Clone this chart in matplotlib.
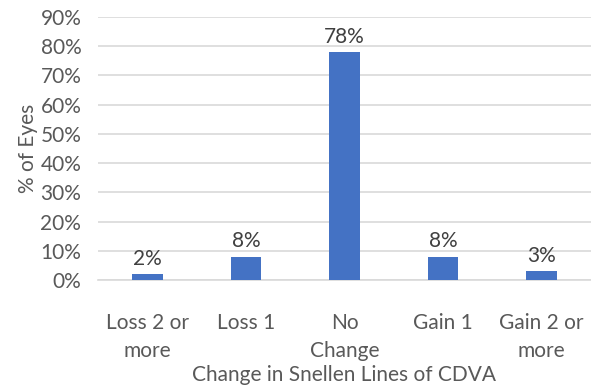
"""Bar chart of change in Snellen lines of CDVA."""

import matplotlib.pyplot as plt

categories = ["Loss 2 or\nmore", "Loss 1", "No\nChange", "Gain 1", "Gain 2 or\nmore"]
percent_eyes = [2, 8, 78, 8, 3]
y_ticks = [0, 10, 20, 30, 40, 50, 60, 70, 80, 90]

BAR_COLOR = "#4472C4"
TEXT_COLOR = "#595959"
GRID_COLOR = "#D9D9D9"

plt.rcParams["font.family"] = ["Lato", "DejaVu Sans"]

fig = plt.figure(figsize=(5.91, 3.87), dpi=100)
ax = fig.add_axes([98 / 591, 1 - 280 / 387, 493 / 591, 263 / 387])

x = range(len(categories))
bars = ax.bar(x, percent_eyes, width=0.31, color=BAR_COLOR, zorder=3)

for rect, val in zip(bars, percent_eyes):
    ax.annotate(f"{val}%", (rect.get_x() + rect.get_width() / 2, rect.get_height()),
                xytext=(0, 4), textcoords="offset points", ha="center", va="bottom",
                fontsize=15, color="#404040")

ax.set_xlim(-0.5, len(categories) - 0.5)
ax.set_ylim(0, 90)
ax.set_yticks(y_ticks)
ax.set_yticklabels([f"{t}%" for t in y_ticks])
ax.set_xticks(list(x))
ax.set_xticklabels(categories, linespacing=1.5)
ax.yaxis.grid(True, color=GRID_COLOR, linewidth=1.2, zorder=0)
ax.tick_params(axis="both", length=0, labelsize=15, colors=TEXT_COLOR)
ax.tick_params(axis="x", pad=24)
ax.tick_params(axis="y", pad=12)
for side in ["top", "right", "left"]:
    ax.spines[side].set_visible(False)
ax.spines["bottom"].set_color(GRID_COLOR)
ax.spines["bottom"].set_linewidth(1.2)

ax.set_ylabel("% of Eyes", fontsize=15, color=TEXT_COLOR, labelpad=2)
ax.set_xlabel("Change in Snellen Lines of CDVA", fontsize=15, color=TEXT_COLOR)
ax.xaxis.set_label_coords(0.5, -0.325)

fig.savefig("out.png", dpi=100)
plt.close(fig)
